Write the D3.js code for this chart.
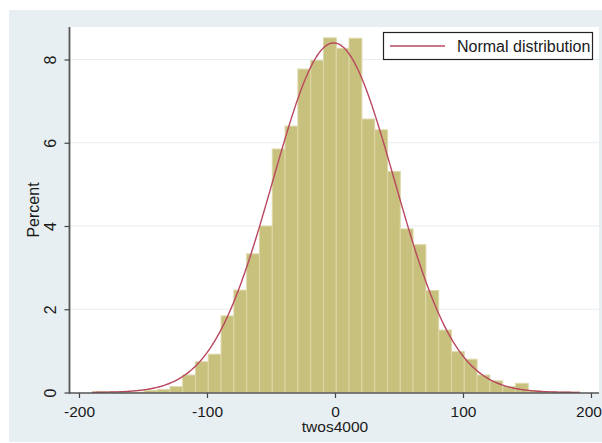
<!DOCTYPE html>
<html>
<head>
<meta charset="utf-8">
<script src="https://cdn.jsdelivr.net/npm/d3@7"></script>
<style>
  html, body { margin: 0; padding: 0; background: #ffffff; }
  svg { display: block; }
  text { font-family: "Liberation Sans", Arial, sans-serif; fill: #1a1a1a; }
</style>
</head>
<body>
<svg id="chart" width="602" height="443"></svg>
<script>
// Histogram of twos4000: lower edge of each 10-unit bin and its share of observations (%)
const binWidth = 10;
const binLower = [-189, -179, -169, -159, -149, -139, -129, -119, -109, -99,
                  -89, -79, -69, -59, -49, -39, -29, -19, -9, 1,
                  11, 21, 31, 41, 51, 61, 71, 81, 91, 101,
                  111, 121, 131, 141, 151, 161, 171, 181];
const percent  = [0.02, 0.02, 0.02, 0.01, 0.05, 0.07, 0.14, 0.42, 0.74, 0.92,
                  1.84, 2.46, 3.33, 4.00, 5.85, 6.40, 7.77, 7.98, 8.52, 8.27,
                  8.51, 6.57, 6.31, 5.31, 3.93, 3.55, 2.45, 1.50, 0.98, 0.80,
                  0.42, 0.28, 0.14, 0.22, 0.04, 0.02, 0.01, 0.01];

// Fitted normal overlay parameters
const normalMean = -1;
const normalSd = 47.5;
const normalRange = [-190, 191];

const xTicks = [-200, -100, 0, 100, 200];
const yTicks = [0, 2, 4, 6, 8];
const xTitle = "twos4000";
const yTitle = "Percent";
const legendLabel = "Normal distribution";

const svg = d3.select("#chart");

// graph region and plot region
svg.append("rect").attr("x", 9).attr("y", 10).attr("width", 593).attr("height", 432)
  .attr("fill", "#e8eff2");
svg.append("rect").attr("x", 70).attr("y", 27).attr("width", 529).attr("height", 366)
  .attr("fill", "#ffffff");

const x = d3.scaleLinear().domain([-200, 200]).range([79, 591]);
const y = d3.scaleLinear().domain([0, 8]).range([392.5, 59.5]);

// horizontal grid lines
svg.append("g").selectAll("line").data(yTicks.filter(d => d > 0)).join("line")
  .attr("x1", 70).attr("x2", 599)
  .attr("y1", d => y(d)).attr("y2", d => y(d))
  .attr("stroke", "#e6eef2").attr("stroke-width", 1.2);

// bars
const bins = binLower.map((lo, i) => ({ lo, hi: lo + binWidth, v: percent[i] }));
svg.append("g").selectAll("rect").data(bins).join("rect")
  .attr("x", d => x(d.lo))
  .attr("width", d => x(d.hi) - x(d.lo))
  .attr("y", d => y(d.v))
  .attr("height", d => y(0) - y(d.v))
  .attr("fill", "#c8c07d")
  .attr("stroke", "#ddd8a8")
  .attr("stroke-width", 1);

// normal density scaled to percent per bin
const density = u => 100 * binWidth / (normalSd * Math.sqrt(2 * Math.PI)) *
  Math.exp(-0.5 * Math.pow((u - normalMean) / normalSd, 2));
const curvePts = d3.range(normalRange[0], normalRange[1] + 0.01, 1).map(u => [u, density(u)]);
svg.append("path")
  .datum(curvePts)
  .attr("fill", "none")
  .attr("stroke", "#b8485f")
  .attr("stroke-width", 1.4)
  .attr("d", d3.line().x(d => x(d[0])).y(d => y(d[1])));

// axes (plain hyphen for negative labels)
const plain = d => String(d);
const xAxis = d3.axisBottom(x).tickValues(xTicks).tickSize(5).tickFormat(plain);
const gx = svg.append("g").attr("transform", `translate(0,${393})`).call(xAxis);
gx.select(".domain").attr("d", "M69,0H599").attr("stroke", "#555").attr("stroke-width", 1.6);
gx.selectAll(".tick line").attr("stroke", "#444").attr("stroke-width", 1.2);
gx.selectAll(".tick text").attr("font-size", 15.5).attr("fill", "#1a1a1a")
  .attr("font-family", "'Liberation Sans', Arial, sans-serif")
  .attr("dy", null).attr("y", 23.5)
  // keep the last label inside the window's right edge
  .attr("x", (d, i, n) => i === n.length - 1 ? -2.5 : 0);

const yAxis = d3.axisLeft(y).tickValues(yTicks).tickSize(5).tickFormat(plain);
const gy = svg.append("g").attr("transform", "translate(69.5,0)").call(yAxis);
gy.select(".domain").attr("d", "M0,27V393.5").attr("stroke", "#555").attr("stroke-width", 1.8);
gy.selectAll(".tick line").attr("stroke", "#444").attr("stroke-width", 1.2);
gy.selectAll(".tick text")
  .attr("font-size", 16).attr("fill", "#1a1a1a")
  .attr("font-family", "'Liberation Sans', Arial, sans-serif")
  .attr("x", null).attr("dy", null)
  .attr("text-anchor", "middle")
  .attr("transform", "translate(-13.5,0) rotate(-90)");

// axis titles
svg.append("text").attr("x", x(0)).attr("y", 432)
  .attr("text-anchor", "middle").attr("font-size", 15.5).text(xTitle);
svg.append("text")
  .attr("transform", `translate(39,${(27 + 393) / 2}) rotate(-90)`)
  .attr("text-anchor", "middle").attr("font-size", 16).text(yTitle);

// legend
const lg = svg.append("g");
lg.append("rect").attr("x", 383.5).attr("y", 32.5).attr("width", 209).attr("height", 27)
  .attr("fill", "#ffffff").attr("stroke", "#222").attr("stroke-width", 1.2);
lg.append("line").attr("x1", 390).attr("x2", 445).attr("y1", 46).attr("y2", 46)
  .attr("stroke", "#b8485f").attr("stroke-width", 1.6);
lg.append("text").attr("x", 457).attr("y", 52).attr("font-size", 16).text(legendLabel);
</script>
</body>
</html>
